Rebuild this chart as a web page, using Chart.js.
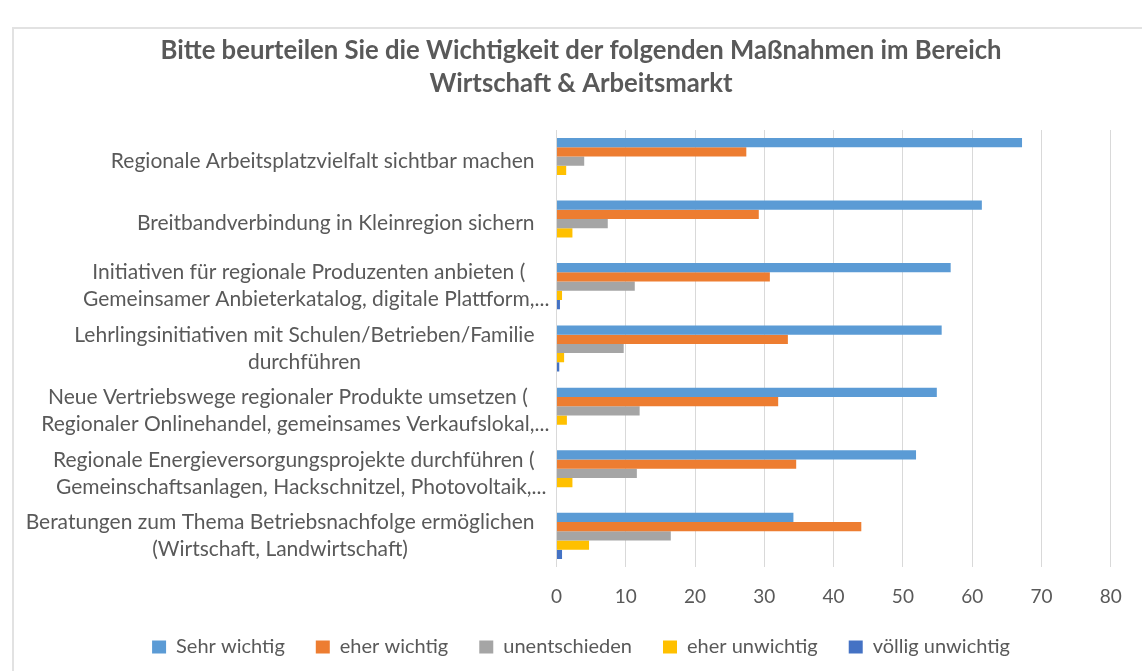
<!DOCTYPE html>
<html lang="de">
<head>
    <meta charset="UTF-8">
    <title>Wirtschaft & Arbeitsmarkt</title>
    <script src="https://cdn.jsdelivr.net/npm/chart.js"></script>
    <style>
        body { margin: 0; background: #fff; }
        #frame { position: absolute; left: 12px; top: 27px; width: 1200px; height: 700px;
                 border-left: 2px solid #e2e2e2; border-top: 2px solid #e2e2e2; }
        #myChart { position: absolute; left: 0; top: 0; }
    </style>
</head>
<body>
    <div id="frame"></div>
    <canvas id="myChart" width="1142" height="671"></canvas>

    <script>
        // Kategorien (Zeilen, wie im Original umbrochen)
        const categories = [
            ['Regionale Arbeitsplatzvielfalt sichtbar machen'],
            ['Breitbandverbindung in Kleinregion sichern'],
            ['Initiativen für regionale Produzenten anbieten (', 'Gemeinsamer Anbieterkatalog, digitale Plattform,...'],
            ['Lehrlingsinitiativen mit Schulen/Betrieben/Familie', 'durchführen'],
            ['Neue Vertriebswege regionaler Produkte umsetzen (', 'Regionaler Onlinehandel, gemeinsames Verkaufslokal,...'],
            ['Regionale Energieversorgungsprojekte durchführen (', 'Gemeinschaftsanlagen, Hackschnitzel, Photovoltaik,...'],
            ['Beratungen zum Thema Betriebsnachfolge ermöglichen', '(Wirtschaft, Landwirtschaft)']
        ];

        const sehrWichtig    = [67.2, 61.4, 56.9, 55.6, 54.9, 51.9, 34.2];
        const eherWichtig    = [27.4, 29.2, 30.8, 33.4, 32.0, 34.6, 44.0];
        const unentschieden  = [4.0, 7.4, 11.3, 9.7, 12.0, 11.6, 16.5];
        const eherUnwichtig  = [1.4, 2.3, 0.8, 1.1, 1.5, 2.3, 4.7];
        const voelligUnwichtig = [0, 0, 0.5, 0.4, 0, 0, 0.8];

        const xTicks = [0, 10, 20, 30, 40, 50, 60, 70, 80];

        const textColor = '#595959';
        const fontFamily = 'Lato, "Open Sans", sans-serif';

        // Achsenbeschriftung wie in Excel: Block rechtsbündig, Zeilen zentriert
        const blockLabels = {
            id: 'blockLabels',
            afterDraw(chart) {
                const ctx = chart.ctx;
                const yScale = chart.scales.y;
                const right = chart.scales.x.left - 22;
                const lineH = 27;
                ctx.save();
                ctx.font = '21px ' + fontFamily;
                ctx.fillStyle = textColor;
                ctx.textBaseline = 'middle';
                ctx.textAlign = 'left';
                categories.forEach((lines, i) => {
                    const y = yScale.getPixelForTick(i);
                    const widths = lines.map(t => ctx.measureText(t.replace(/\.\.\.$/, '')).width);
                    const blockW = Math.max(...widths);
                    const center = right - blockW / 2;
                    const top = y - (lines.length - 1) * lineH / 2;
                    lines.forEach((t, j) => ctx.fillText(t, center - widths[j] / 2, top + j * lineH));
                });
                ctx.restore();
            }
        };

        const ctx = document.getElementById('myChart').getContext('2d');
        const myChart = new Chart(ctx, {
            type: 'bar',
            data: {
                labels: categories,
                datasets: [
                    { label: 'Sehr wichtig', data: sehrWichtig, backgroundColor: '#5B9BD5' },
                    { label: 'eher wichtig', data: eherWichtig, backgroundColor: '#ED7D31' },
                    { label: 'unentschieden', data: unentschieden, backgroundColor: '#A5A5A5' },
                    { label: 'eher unwichtig', data: eherUnwichtig, backgroundColor: '#FFC000' },
                    { label: 'völlig unwichtig', data: voelligUnwichtig, backgroundColor: '#4472C4' }
                ]
            },
            options: {
                indexAxis: 'y',
                responsive: false,
                animation: false,
                categoryPercentage: 0.74,
                barPercentage: 1.0,
                borderWidth: 0,
                layout: { padding: { left: 20, right: 0, top: 0, bottom: 4 } },
                plugins: {
                    title: {
                        display: true,
                        text: ['Bitte beurteilen Sie die Wichtigkeit der folgenden Maßnahmen im Bereich', 'Wirtschaft & Arbeitsmarkt'],
                        color: textColor,
                        font: { family: fontFamily, size: 25.7, weight: 'bold', lineHeight: 33 / 25.7 },
                        padding: { top: 34, bottom: 30 }
                    },
                    legend: {
                        position: 'bottom',
                        labels: {
                            color: textColor,
                            font: { family: fontFamily, size: 20 },
                            boxWidth: 14,
                            boxHeight: 13,
                            padding: 31
                        }
                    },
                    tooltip: { enabled: false }
                },
                scales: {
                    x: {
                        min: 0,
                        max: 80,
                        afterBuildTicks: s => { s.ticks = xTicks.map(v => ({ value: v })); },
                        ticks: { color: textColor, font: { family: fontFamily, size: 19 }, padding: 18 },
                        grid: { color: '#d9d9d9', drawTicks: false },
                        border: { display: false },
                        afterFit: s => { s.height = 39; s.paddingRight = 31.3; }
                    },
                    y: {
                        ticks: { display: false },
                        grid: { display: false },
                        border: { display: false },
                        afterFit: s => { s.width = 536.5; }
                    }
                }
            },
            plugins: [blockLabels]
        });
    </script>
</body>
</html>
